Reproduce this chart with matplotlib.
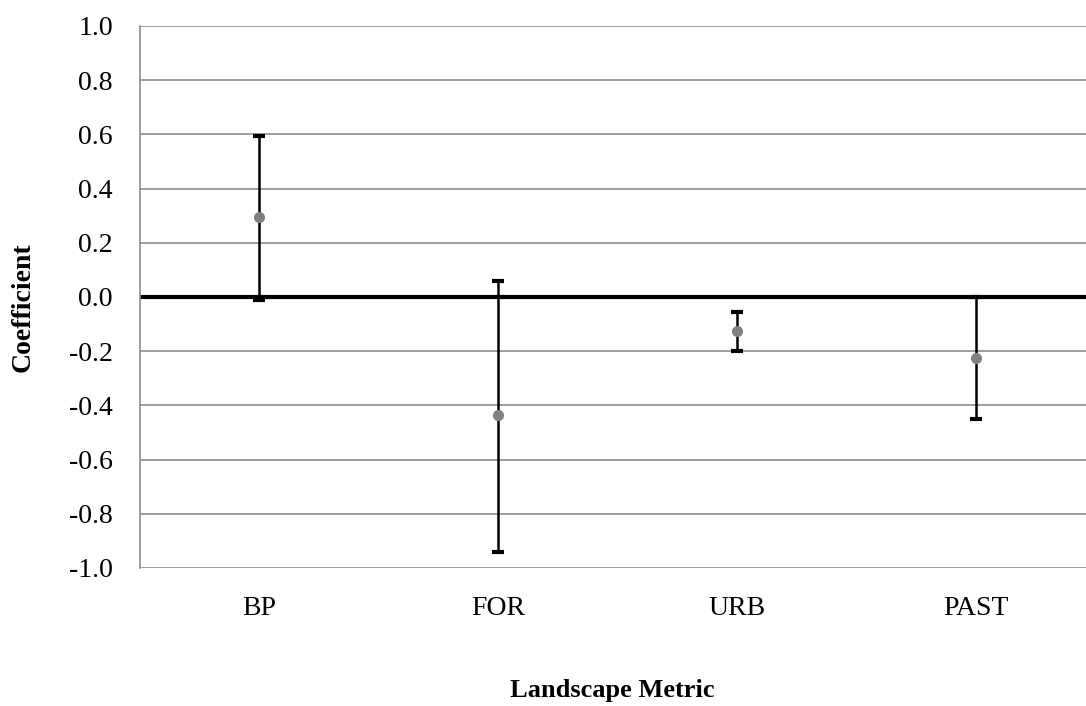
import matplotlib.pyplot as plt
import numpy as np

categories = ["BP", "FOR", "URB", "PAST"]
coef = [0.295, -0.435, -0.125, -0.225]
upper = [0.595, 0.06, -0.055, 0.0]
lower = [-0.01, -0.94, -0.20, -0.45]
yticks = [-1.0, -0.8, -0.6, -0.4, -0.2, 0.0, 0.2, 0.4, 0.6, 0.8, 1.0]

coef = np.array(coef)
yerr = [coef - np.array(lower), np.array(upper) - coef]
x = np.arange(len(categories)) + 0.5

fig = plt.figure(figsize=(10.86, 7.06), dpi=100)
ax = fig.add_axes([0.1289, 0.1955, 0.8711, 0.7677])

ax.set_xlim(0, 3.96)
ax.set_ylim(-1.0, 1.0)
ax.set_yticks(yticks)
ax.set_yticklabels([f"{v:.1f}" for v in yticks])
ax.yaxis.grid(True, color="#8c8c8c", linewidth=1.2)
ax.set_axisbelow(True)
ax.axhline(0, color="black", linewidth=3, zorder=2)

ax.errorbar(x, coef, yerr=yerr, fmt="o", color="#808080", markersize=7,
            ecolor="black", elinewidth=1.8, capsize=4, capthick=3, zorder=3)

ax.set_xticks(x)
ax.set_xticklabels(categories)
ax.tick_params(length=0, labelsize=20)
for lab in ax.get_xticklabels() + ax.get_yticklabels():
    lab.set_fontfamily("Liberation Serif")
ax.tick_params(axis="y", pad=19.5)
ax.tick_params(axis="x", pad=20)

for s in ["top", "right", "bottom"]:
    ax.spines[s].set_visible(False)
ax.spines["left"].set_color("#8c8c8c")
ax.spines["left"].set_linewidth(1.2)

fig.text(0.021, 0.565, "Coefficient", rotation=90, ha="center", va="center",
         fontsize=20, fontweight="bold", family="Liberation Serif")
fig.text(0.5635, 0.022, "Landscape Metric", ha="center", va="center",
         fontsize=19, fontweight="bold", family="Liberation Serif")

plt.savefig("out.png", dpi=100)
